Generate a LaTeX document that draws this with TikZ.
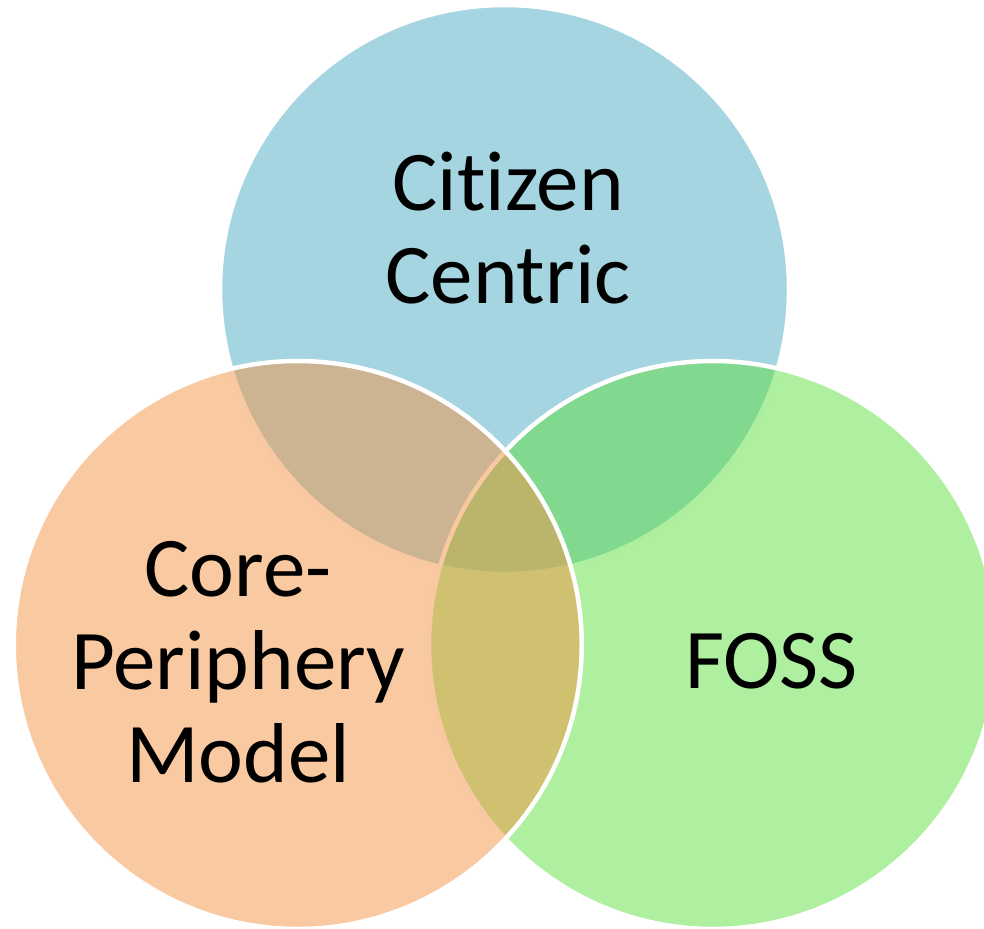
\documentclass[tikz,border=0pt]{standalone}
\usepackage{fontspec}
\setmainfont{Carlito}[Ligatures={NoCommon,NoContextual}]
\definecolor{cblue}{RGB}{75,171,195}
\definecolor{corange}{RGB}{243,147,69}
\definecolor{cgreen}{RGB}{95,223,65}
\tikzset{
  venn/.style={fill opacity=0.5, draw=white, draw opacity=1, line width=4.5pt},
  lbl/.style={font=\fontsize{85}{93}\selectfont, align=center, inner sep=0pt, text=black}
}
\begin{document}
\begin{tikzpicture}[x=1pt,y=-1pt]
\useasboundingbox (0,0) rectangle (984,928);
\path[venn, fill=cblue] (504.5,289.5) circle[radius=284.5pt];
\path[venn, fill=cgreen] (713,645) circle[radius=284pt];
\path[venn, fill=corange] (297.75,645) circle[radius=284pt];
\node[lbl, anchor=base] (cc) at (508,303) {Citizen\\Centric};
\node[lbl, anchor=base] (foss) at (771.5,688) {FOSS};
\node[lbl, anchor=base] (cpm) at (238,782) {Core-\\Periphery\\Model};
\end{tikzpicture}
\end{document}
